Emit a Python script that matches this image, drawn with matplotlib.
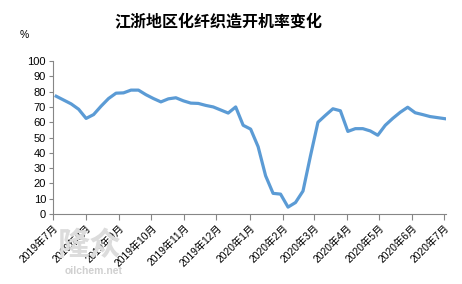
import pandas as pd
import numpy as np
import matplotlib.pyplot as plt
import matplotlib.dates as mdates

plt.rcParams['font.family'] = ['Liberation Sans', 'Noto Sans CJK SC']

# weekly operating rate, Jiangsu/Zhejiang weaving (%)
start_week = '2019-07-04'
rate = [77, 74.5, 72, 68.5, 62.5, 65, 70.5, 75.5, 79, 79.2,
        81, 81, 78, 75.5, 73.3, 75.3, 76, 74, 72.5, 72.3,
        71, 70, 68, 66, 70, 58, 55.5, 44, 25, 13.5,
        13, 4.5, 7.5, 15, 38, 60, 64.5, 68.8, 67.5, 54,
        55.8, 55.8, 54.3, 51.5, 58, 62.5, 66.5, 69.8, 66.2, 65,
        63.7, 63, 62.3]
weeks = pd.date_range(start_week, periods=len(rate), freq='7D')

months = pd.date_range('2019-07-01', '2020-07-01', freq='MS')
month_labels = ['%d年%d月' % (m.year, m.month) for m in months]

fig = plt.figure(figsize=(4.62, 2.84), dpi=100)
ax = fig.add_axes([0.1147, 0.2465, 0.851, 0.5385])

# watermark behind everything
fig.text(0.125, 0.135, '隆众', ha='left', va='center', fontsize=23, color='#dcdcdc',
         fontweight='bold', family=['Noto Sans CJK SC'], zorder=0)
fig.text(0.14, 0.045, 'oilchem.net', ha='left', va='center', fontsize=7.5,
         color='#d0d0d0', fontweight='bold', zorder=0)

ax.plot(weeks, rate, color='#5B9BD5', linewidth=2.3, solid_joinstyle='round')

ax.set_ylim(0, 100)
ax.set_yticks(np.arange(0, 101, 10))
ax.set_xlim(months[0], months[-1] + pd.Timedelta(days=2))
ax.set_xticks(months)
ax.set_xticklabels(month_labels, rotation=45, ha='right', rotation_mode='anchor')
ax.patch.set_alpha(0)

for s in ['top', 'right']:
    ax.spines[s].set_visible(False)
for s in ['left', 'bottom']:
    ax.spines[s].set_color('#868686')
    ax.spines[s].set_linewidth(0.8)
ax.tick_params(axis='y', length=3, color='#868686', labelsize=8, pad=2)
ax.tick_params(axis='x', length=4, color='#868686', labelsize=7.4, pad=2)

fig.text(0.472, 0.92, '江浙地区化纤织造开机率变化', ha='center', va='center',
         fontsize=11.5, fontweight='heavy', family=['Noto Sans CJK SC'])
fig.text(0.052, 0.875, '%', ha='center', va='center', fontsize=7.5)

fig.savefig('out.png', dpi=100)
